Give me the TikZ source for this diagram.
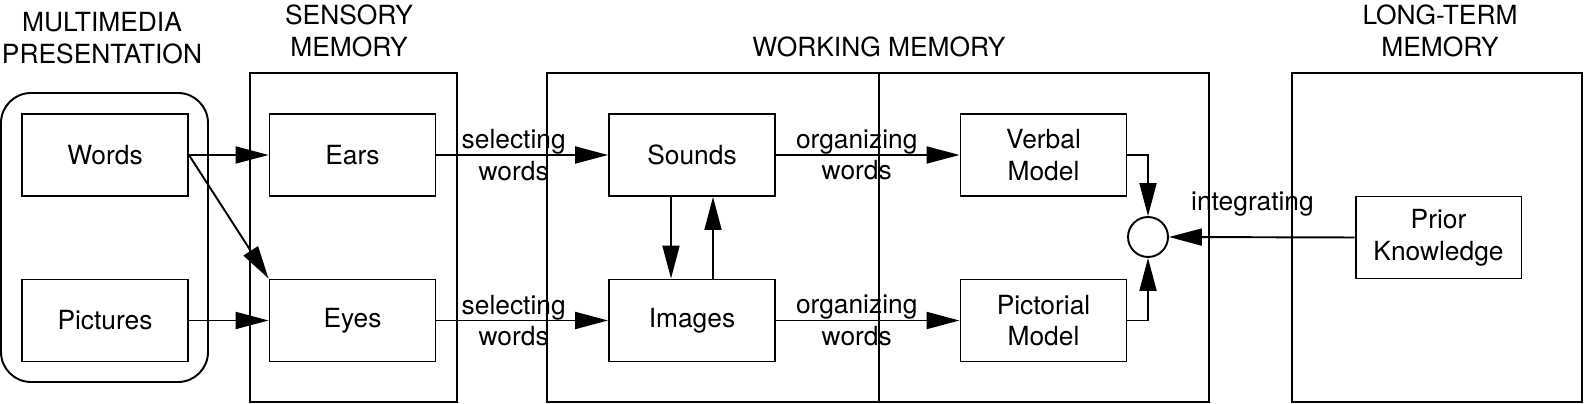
\documentclass[tikz,border=0pt]{standalone}
\usepackage{fontspec}
\setmainfont{TeX Gyre Heros}
\usetikzlibrary{arrows.meta}
\usetikzlibrary{positioning}

\begin{document}
\begin{tikzpicture}[x = 0.02cm, y = -0.02cm, line width = 1.1pt, >={Triangle[length=0.66cm, width=0.34cm]}, font=\fontsize{15}{18}\selectfont]
    \tikzset{
        stagebox/.style={draw, minimum width=3.32cm, minimum height=1.64cm, align=center, inner sep=0},
        heading/.style={align=center, inner sep=0},
        steplabel/.style={align=center, inner sep=0}
    }

    \useasboundingbox (0,0) rectangle (1584,404);

    % memory frames
    \draw [rounded corners=0.6cm] (1,93) rectangle (208,382);
    \draw (250,73) rectangle (457,402);
    \draw (547,73) rectangle (1209,402);
    \draw [line width=0.8pt] (879,73) -- (879,402);
    \draw (1292,73) rectangle (1582,402);

    \node [heading] (mmhead) at (102,38) {MULTIMEDIA\\PRESENTATION};
    \node [heading] (smhead) at (349,31) {SENSORY\\MEMORY};
    \node [heading] (wmhead) at (879,47) {WORKING MEMORY};
    \node [heading] (ltmhead) at (1440,31) {LONG-TERM\\MEMORY};

    \node [stagebox] (words) at (105,155) {Words};
    \node [stagebox] (pictures) at (105,320.5) {Pictures};
    \node [stagebox] (ears) at (352.5,155) {Ears};
    \node [stagebox] (eyes) at (352.5,320.5) {Eyes};
    \node [stagebox] (sounds) at (692,155) {Sounds};
    \node [stagebox] (images) at (692,320.5) {Images};
    \node [stagebox] (verbal) at (1043.5,155) {Verbal\\Model};
    \node [stagebox] (pictorial) at (1043.5,320.5) {Pictorial\\Model};
    \node [draw, circle, minimum size=0.8cm, inner sep=0] (integ) at (1148,237) {};
    \node [stagebox] (prior) at (1438.5,237.5) {Prior\\Knowledge};

    \draw [->] (words.east) -- (ears.west);
    \draw [->] (words.east) -- (eyes.north west);
    \draw [->] (pictures.east) -- (eyes.west);

    \draw [->] (ears.east) -- node[steplabel, pos=0.45] {selecting\\words} (sounds.west);
    \draw [->] (eyes.east) -- node[steplabel, pos=0.45] {selecting\\words} (images.west);

    \draw [->] ([xshift=-0.42cm]sounds.south) -- ([xshift=-0.42cm]images.north);
    \draw [->] ([xshift=0.42cm]images.north) -- ([xshift=0.42cm]sounds.south);

    \draw [->] (sounds.east) -- node[steplabel, pos=0.44] {organizing\\words} (verbal.west);
    \draw [->] (images.east) -- node[steplabel, pos=0.44] {organizing\\words} (pictorial.west);

    \draw [->] (verbal.east) -| (integ.north);
    \draw [->] (pictorial.east) -| (integ.south);
    \draw [->] (prior.west) -- node[steplabel, above=0.4cm, pos=0.55] {integrating} (integ.east);

\end{tikzpicture}
\end{document}
